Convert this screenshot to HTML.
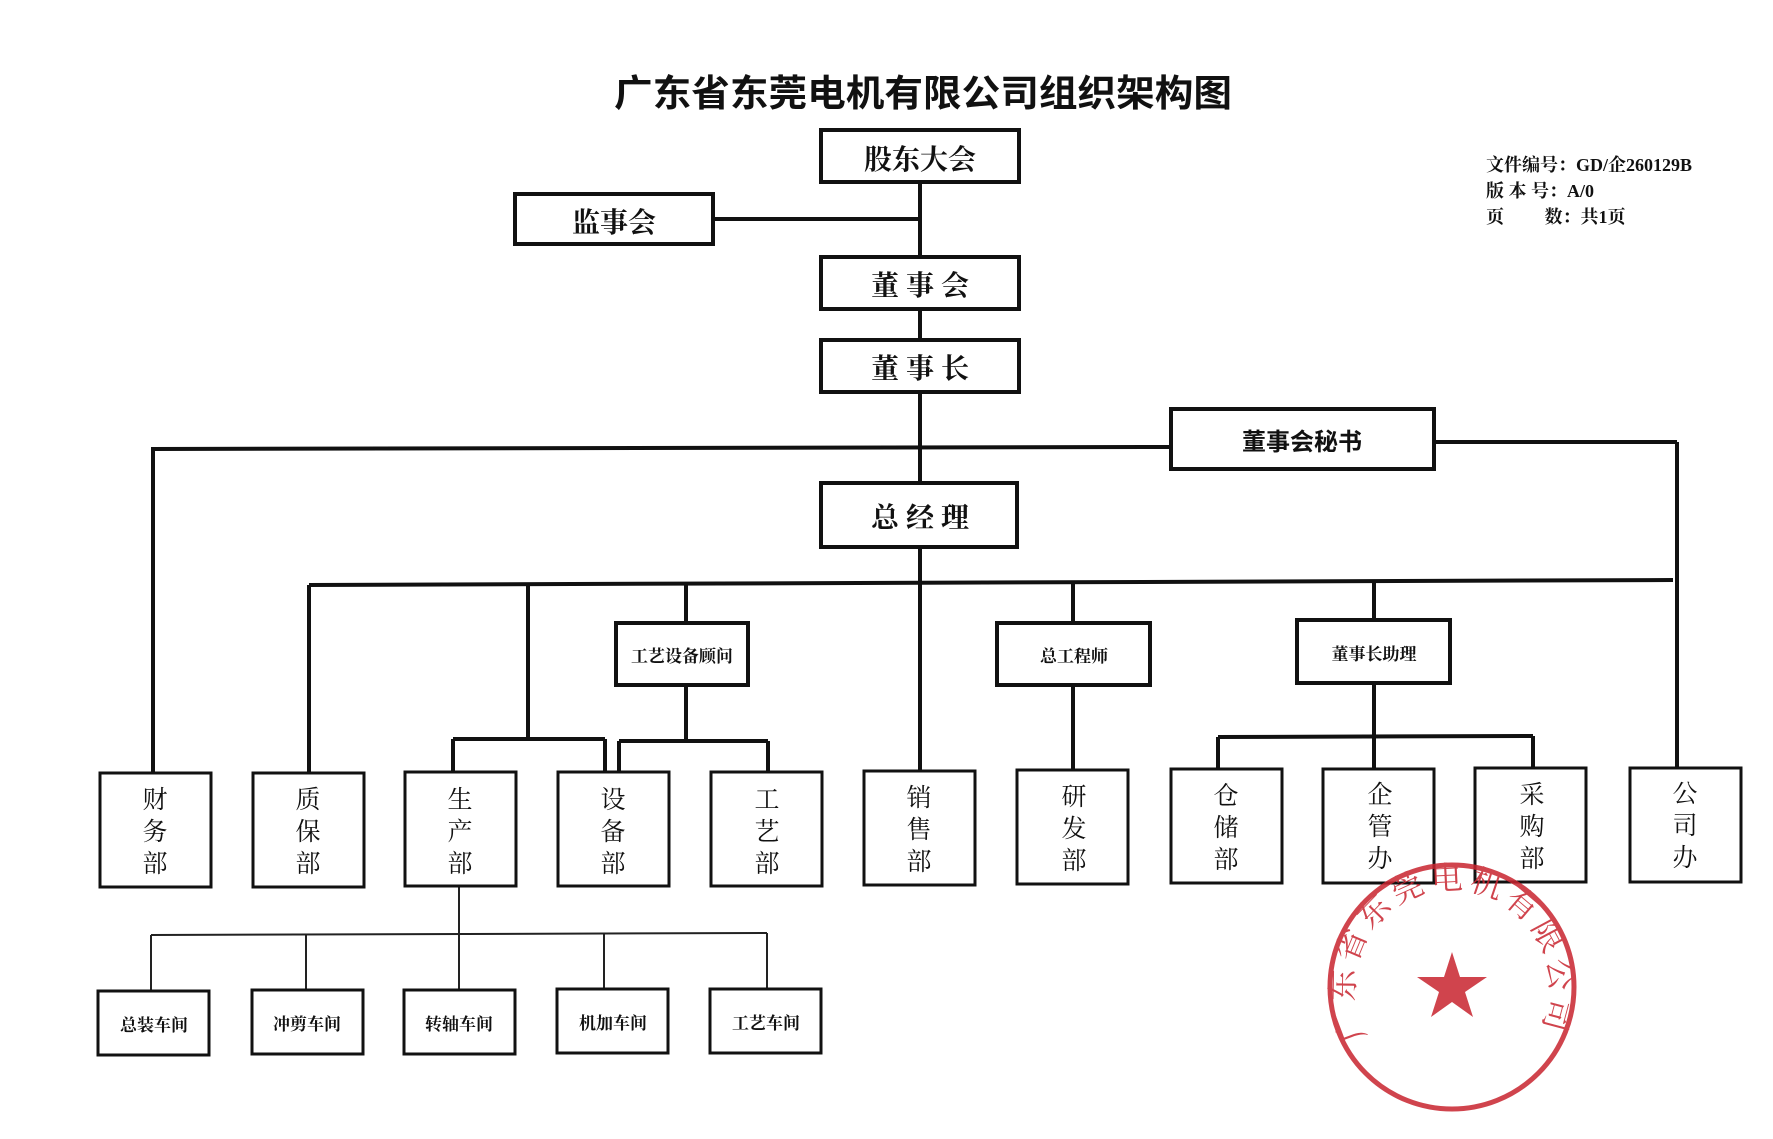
<!DOCTYPE html>
<html><head><meta charset="utf-8"><style>
html,body{margin:0;padding:0;background:#fff;}
svg{display:block;}
text{font-family:"Liberation Serif","Noto Serif CJK SC","Noto Sans CJK SC",serif;fill:#111;}
.b{font-family:"Liberation Sans","Noto Sans CJK SC",sans-serif;font-weight:bold;}
</style></head><body>
<svg width="1773" height="1139" viewBox="0 0 1773 1139" xmlns="http://www.w3.org/2000/svg">
<rect width="1773" height="1139" fill="#fff"/>
<text x="923" y="106" font-size="37" text-anchor="middle" class="b" textLength="618" lengthAdjust="spacingAndGlyphs">广东省东莞电机有限公司组织架构图</text>
<g font-size="18" font-weight="bold">
<text x="1486" y="171">文件编号：GD/企260129B</text>
<text x="1486" y="197">版 本 号：A/0</text>
<text x="1486" y="223">页　　 数：共1页</text>
</g>
<g stroke="#111" stroke-width="4" fill="none">
<line x1="920" y1="182" x2="920" y2="771"/>
<line x1="713" y1="219" x2="920" y2="219"/>
<line x1="153" y1="449" x2="1171" y2="447"/>
<line x1="153" y1="447" x2="153" y2="773"/>
<line x1="1434" y1="442" x2="1677" y2="442"/>
<line x1="1677" y1="442" x2="1677" y2="767"/>
<line x1="309" y1="585" x2="1673" y2="580"/>
<line x1="309" y1="585" x2="309" y2="773"/>
<line x1="528" y1="585" x2="528" y2="739"/>
<line x1="453" y1="739" x2="605" y2="739"/>
<line x1="453" y1="739" x2="453" y2="772"/>
<line x1="605" y1="739" x2="605" y2="772"/>
<line x1="686" y1="585" x2="686" y2="623"/>
<line x1="686" y1="685" x2="686" y2="739"/>
<line x1="619" y1="741" x2="768" y2="741"/>
<line x1="619" y1="741" x2="619" y2="772"/>
<line x1="768" y1="741" x2="768" y2="772"/>
<line x1="1073" y1="583" x2="1073" y2="623"/>
<line x1="1073" y1="685" x2="1073" y2="770"/>
<line x1="1374" y1="582" x2="1374" y2="619"/>
<line x1="1374" y1="683" x2="1374" y2="769"/>
<line x1="1218" y1="737" x2="1533" y2="736"/>
<line x1="1218" y1="737" x2="1218" y2="769"/>
<line x1="1533" y1="736" x2="1533" y2="768"/>
</g>
<g stroke="#222" stroke-width="2" fill="none">
<line x1="459" y1="886" x2="459" y2="989"/>
<line x1="151" y1="935" x2="767" y2="933"/>
<line x1="151" y1="935" x2="151" y2="990"/>
<line x1="306" y1="935" x2="306" y2="990"/>
<line x1="604" y1="934" x2="604" y2="990"/>
<line x1="767" y1="933" x2="767" y2="990"/>
</g>
<g stroke="#111" stroke-width="4" fill="#fff">
<rect x="821" y="130" width="198" height="52"/>
<rect x="515" y="194" width="198" height="50"/>
<rect x="821" y="257" width="198" height="52"/>
<rect x="821" y="340" width="198" height="52"/>
<rect x="1171" y="409" width="263" height="60"/>
<rect x="821" y="483" width="196" height="64"/>
<rect x="616" y="623" width="132" height="62"/>
<rect x="997" y="623" width="153" height="62"/>
<rect x="1297" y="620" width="153" height="63"/>
</g>
<g stroke="#111" stroke-width="3" fill="#fff">
<rect x="100" y="773" width="111" height="114"/>
<rect x="253" y="773" width="111" height="114"/>
<rect x="405" y="772" width="111" height="114"/>
<rect x="558" y="772" width="111" height="114"/>
<rect x="711" y="772" width="111" height="114"/>
<rect x="864" y="771" width="111" height="114"/>
<rect x="1017" y="770" width="111" height="114"/>
<rect x="1171" y="769" width="111" height="114"/>
<rect x="1323" y="769" width="111" height="114"/>
<rect x="1475" y="768" width="111" height="114"/>
<rect x="1630" y="768" width="111" height="114"/>
<rect x="98" y="991" width="111" height="64"/>
<rect x="252" y="990" width="111" height="64"/>
<rect x="404" y="990" width="111" height="64"/>
<rect x="557" y="989" width="111" height="64"/>
<rect x="710" y="989" width="111" height="64"/>
</g>
<g class="b" text-anchor="middle" font-size="28">
<text x="920" y="169">股东大会</text>
<text x="614" y="232">监事会</text>
<text x="920" y="295">董 事 会</text>
<text x="920" y="378">董 事 长</text>
<text x="920" y="527">总 经 理</text>
</g>
<text x="1302" y="450" font-size="24" text-anchor="middle" class="b">董事会秘书</text>
<g class="b" text-anchor="middle" font-size="17">
<text x="682" y="662">工艺设备顾问</text>
<text x="1074" y="662">总工程师</text>
<text x="1374" y="660">董事长助理</text>
<text x="154" y="1031">总装车间</text>
<text x="307" y="1030">冲剪车间</text>
<text x="459" y="1030">转轴车间</text>
<text x="613" y="1029">机加车间</text>
<text x="766" y="1029">工艺车间</text>
</g>
<g text-anchor="middle" font-size="25">
<text x="155" y="808">财</text><text x="155" y="840">务</text><text x="155" y="872">部</text>
<text x="308" y="808">质</text><text x="308" y="840">保</text><text x="308" y="872">部</text>
<text x="460" y="808">生</text><text x="460" y="840">产</text><text x="460" y="872">部</text>
<text x="613" y="808">设</text><text x="613" y="840">备</text><text x="613" y="872">部</text>
<text x="767" y="808">工</text><text x="767" y="840">艺</text><text x="767" y="872">部</text>
<text x="919" y="806">销</text><text x="919" y="838">售</text><text x="919" y="870">部</text>
<text x="1074" y="805">研</text><text x="1074" y="837">发</text><text x="1074" y="869">部</text>
<text x="1226" y="804">仓</text><text x="1226" y="836">储</text><text x="1226" y="868">部</text>
<text x="1380" y="803">企</text><text x="1380" y="835">管</text><text x="1380" y="867">办</text>
<text x="1532" y="803">采</text><text x="1532" y="835">购</text><text x="1532" y="867">部</text>
<text x="1685" y="802">公</text><text x="1685" y="834">司</text><text x="1685" y="866">办</text>
</g>
<g opacity="0.85">
<circle cx="1452" cy="987" r="122" fill="none" stroke="#c8242f" stroke-width="5"/>
<defs><path id="arc" d="M1367,1036 A98,98 0 1,1 1537,1036"/></defs>
<text font-size="32" style="fill:#c8242f" font-family="'Noto Serif CJK SC',serif"><textPath href="#arc" textLength="400" lengthAdjust="spacing">广东省东莞电机有限公司</textPath></text>
<polygon points="1452,952 1460,977 1487,977 1465,992 1473,1017 1452,1002 1431,1017 1439,992 1417,977 1444,977" fill="#c8242f"/>
</g>
</svg>
</body></html>
